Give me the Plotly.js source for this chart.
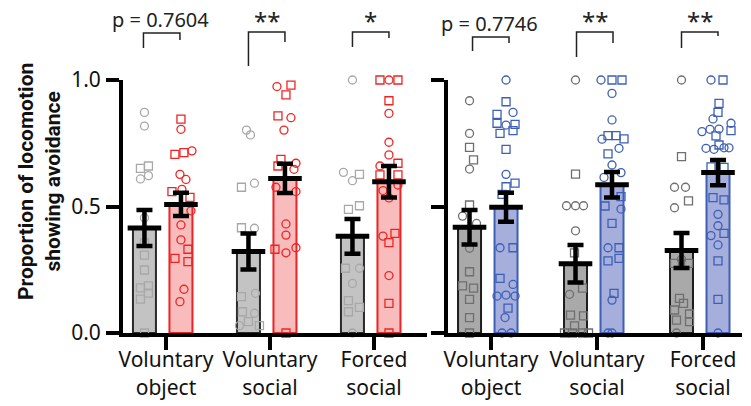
<!DOCTYPE html>
<html>
<head>
<meta charset="utf-8">
<script src="https://cdn.plot.ly/plotly-3.0.1.min.js"></script>
<style>html,body{margin:0;padding:0;background:#fff}#chart{width:751px;height:406px}</style>
</head>
<body>
<div id="chart"></div>
<script>
// ---------- DATA ----------
const groupPos = [0, 1, 2];
const tickLabels = ['Voluntary<br>object', 'Voluntary<br>social', 'Forced<br>social'];
const yTickVals = [0, 0.5, 1];
const yTickText = ['0.0', '0.5', '1.0'];

// Left panel (grey vs red)
const leftCtrlMean = [0.415, 0.322, 0.382];
const leftCtrlSem  = [0.071, 0.071, 0.069];
const leftExpMean  = [0.508, 0.611, 0.598];
const leftExpSem   = [0.046, 0.058, 0.062];
// Right panel (grey vs blue)
const rightCtrlMean = [0.418, 0.274, 0.326];
const rightCtrlSem  = [0.068, 0.074, 0.069];
const rightExpMean  = [0.497, 0.586, 0.634];
const rightExpSem   = [0.057, 0.050, 0.050];

// Individual points: values, symbols (c = circle, s = square), horizontal jitter (px)
const leftCtrlVals = [
  [0.872,0.818,0.651,0.660,0.609,0.622,0.455,0.356,0.308,0.249,0.178,0.186,0.158,0.134,0.0],
  [0.802,0.783,0.576,0.592,0.416,0.414,0.144,0.157,0.084,0.078,0.045,0.029,0.029],
  [1.0,0.635,0.627,0.602,0.489,0.503,0.256,0.256,0.196,0.128,0.084,0.101,0.0]
];
const leftCtrlSyms = ['ccssccc'+'ssssssss'+'c', 'ccscscscscscs', 'ccscsssccsssc'];
const leftCtrlJit = [
  [0,0,-4,4,-4,4,0,0,0,0,-4,4,4,-4,0],
  [-2,2,-7,6,-7,6,-7,7,-6,6,0,-9,11],
  [0,-9,7,0,-4,7,-7,7,0,-4,-4,7,0]
];
const leftExpVals = [
  [0.845,0.805,0.706,0.713,0.720,0.627,0.607,0.559,0.568,0.536,0.483,0.427,0.368,0.331,0.295,0.282,0.173,0.124],
  [0.974,0.980,0.941,0.858,0.851,0.802,0.686,0.671,0.660,0.647,0.576,0.559,0.431,0.387,0.331,0.317,0.337,0.0],
  [1.0,1.0,1.0,0.918,0.868,0.754,0.704,0.660,0.671,0.625,0.625,0.585,0.563,0.534,0.383,0.394,0.357,0.227,0.117,0.0]
];
const leftExpSyms = ['scsscccscsccc'+'ssscc', 'csssccscscccccsccs', 'scssccccsssccccsscss'];
const leftExpJit = [
  [0,0,-6,3,11,-1,5,-9,1,9,10,0,0,7,-6,7,3,-1],
  [-8,6,1,-7,6,-1,-4,11,-7,9,-9,11,1,1,-10,1,11,1],
  [-9,0,9,0,0,0,0,-9,9,-9,9,9,-6,0,-6,6,0,0,0,0]
];
const rightCtrlVals = [
  [0.918,0.789,0.734,0.684,0.648,0.506,0.462,0.433,0.335,0.242,0.186,0.177,0.133,0.061,0.0],
  [1.0,0.628,0.503,0.503,0.503,0.404,0.317,0.177,0.153,0.071,0.068,0.028,0.0,0.0,0.0,0.0],
  [1.0,0.697,0.576,0.576,0.522,0.495,0.291,0.275,0.275,0.137,0.117,0.091,0.075,0.051,0.045,0.0]
];
const rightCtrlSyms = ['ccsscsccc'+'ssssss', 'cscccc'+'ssc'+'ssssssss', 'csccsccss'+'ssssssc'];
const rightCtrlJit = [
  [0,0,0,4,0,0,-7,7,0,0,-7,4,0,0,0],
  [0,0,-9,0,8,0,-1,7,-6,-5,8,-1,-11,-3,7,13],
  [0,0,-7,4,7,-7,0,-7,7,-2,2,-7,8,-5,8,-5]
];
const rightExpVals = [
  [1.0,0.914,0.864,0.872,0.829,0.822,0.825,0.800,0.789,0.726,0.627,0.592,0.578,0.548,0.337,0.337,0.216,0.192,0.146,0.150,0.146,0.098,0.061,0.0,0.0],
  [1.0,1.0,1.0,0.947,0.842,0.766,0.780,0.780,0.767,0.730,0.708,0.664,0.615,0.634,0.502,0.539,0.490,0.433,0.337,0.337,0.285,0.295,0.157,0.130,0.0,0.0],
  [1.0,1.0,0.908,0.872,0.846,0.829,0.800,0.796,0.805,0.806,0.779,0.743,0.730,0.726,0.732,0.732,0.657,0.655,0.535,0.526,0.469,0.424,0.385,0.394,0.348,0.285,0.133,0.0]
];
const rightExpSyms = ['csscscssss'+'cssscsscccc'+'scccc', 'csscccsssc'+'scccsscscsss'+'sccc', 'cssscc'+'scccssccc'+'csssscccscssc'];
const rightExpJit = [
  [0,0,-9,7,-9,0,9,7,-6,0,0,9,0,-4,-6,7,-6,7,-9,0,9,2,-1,-4,5],
  [-11,0,10,0,0,-10,-4,4,12,7,-4,0,-8,9,-7,9,9,0,-4,7,-4,7,2,0,-4,0],
  [-7,5,1,0,-5,13,13,-16,-8,1,-2,1,-12,-4,6,11,-7,6,-5,6,0,0,-7,6,0,0,0,0]
];

// Significance labels
const leftSig = ['p = 0.7604', '**', '*'];
const rightSig = ['p = 0.7746', '**', '**'];
</script>
<script>
// ---------- STYLE / LAYOUT ----------
const FONT = 'Noto Sans, Open Sans, sans-serif';
const Y0 = 73/406, Y1 = 326/406;           // y domain (paper)
const leftDom = [123/751, 427/751], leftRange = [-0.413, 2.51];
const rightDom = [448/751, 742/751], rightRange = [-0.406, 2.368];
const leftPx = (leftDom[1]-leftDom[0])*751/(leftRange[1]-leftRange[0]);
const rightPx = (rightDom[1]-rightDom[0])*751/(rightRange[1]-rightRange[0]);
const ctrlOff = -21.5, expOff = 15;        // px offset of bars from group tick
const barPx = 23;

function symList(str, n){ const out=[]; for(let i=0;i<n;i++){ out.push((str[i]||'c')==='s'?'square-open':'circle-open'); } return out; }

const traces = [];
const shapes = [];
const annotations = [];

function addPanel(xa, ya, pxu, ctrlMean, ctrlSem, expMean, expSem, ctrlVals, ctrlSyms, ctrlJit, expVals, expSyms, expJit,
                  ctrlFill, ctrlLine, ctrlPt, expFill, expLine, expPt, sig, brk, xDom, xRange) {
  const xc = groupPos.map(g => g + ctrlOff/pxu);
  const xe = groupPos.map(g => g + expOff/pxu);
  const w = barPx/pxu;
  traces.push({type:'bar', x:xc, y:ctrlMean, width:w, xaxis:xa, yaxis:ya,
    marker:{color:ctrlFill, line:{color:ctrlLine, width:2}}, hoverinfo:'skip', showlegend:false});
  traces.push({type:'bar', x:xe, y:expMean, width:w, xaxis:xa, yaxis:ya,
    marker:{color:expFill, line:{color:expLine, width:2}}, hoverinfo:'skip', showlegend:false});
  function pts(vals, syms, jit, xs, color){
    const X=[],Y=[],S=[];
    vals.forEach((arr,gi)=>{
      const sl = symList(syms[gi], arr.length);
      arr.forEach((v,i)=>{ X.push(xs[gi] + (jit[gi][i]||0)/pxu); Y.push(v); S.push(sl[i]); });
    });
    traces.push({type:'scatter', mode:'markers', x:X, y:Y, xaxis:xa, yaxis:ya, cliponaxis:false,
      marker:{symbol:S, size:8, color:color, line:{color:color, width:1.3}}, hoverinfo:'skip', showlegend:false});
  }
  pts(ctrlVals, ctrlSyms, ctrlJit, xc, ctrlPt);
  pts(expVals, expSyms, expJit, xe, expPt);
  [[xc, ctrlMean, ctrlSem],[xe, expMean, expSem]].forEach(([xs, m, s])=>{
    traces.push({type:'scatter', mode:'markers', x:xs, y:m, xaxis:xa, yaxis:ya, cliponaxis:false,
      marker:{symbol:'line-ew', size:barPx+1, color:'#000', line:{color:'#000', width:5}},
      error_y:{type:'data', array:s, visible:true, color:'#000', thickness:4.5, width:8},
      hoverinfo:'skip', showlegend:false});
  });
  const toPX = x => xDom[0] + (x - xRange[0])/(xRange[1]-xRange[0])*(xDom[1]-xDom[0]);
  const toPY = v => Y0 + v*(Y1-Y0);
  groupPos.forEach((g,i)=>{
    const b = brk[i];
    const xl = toPX(xc[i]) + b.dx/751, xr = toPX(xe[i]) + b.dx/751;
    shapes.push({type:'path', xref:'paper', yref:'paper',
      path:`M ${xl},${toPY(b.l)} L ${xl},${toPY(b.t)} L ${xr},${toPY(b.t)} L ${xr},${toPY(b.r)}`,
      line:{color:'#222', width:1.5}});
    const isP = sig[i].startsWith('p');
    annotations.push({xref:'paper', yref:'paper', x:(xl+xr)/2 + (isP? -1/751:0), y:toPY(isP? b.t+0.055 : b.t+0.045),
      text:sig[i], showarrow:false, xanchor:'center', yanchor:'middle',
      font:{family:FONT, size:isP?20:24, color:'#222'}});
  });
}

const leftBrk = [{t:1.186,l:1.126,r:1.158,dx:-1},{t:1.190,l:1.055,r:1.150,dx:0},{t:1.190,l:1.130,r:1.166,dx:0}];
const rightBrk = [{t:1.170,l:1.115,r:1.146,dx:3},{t:1.190,l:1.091,r:1.146,dx:1},{t:1.190,l:1.126,r:1.174,dx:0}];

addPanel('x','y', leftPx, leftCtrlMean, leftCtrlSem, leftExpMean, leftExpSem,
  leftCtrlVals, leftCtrlSyms, leftCtrlJit, leftExpVals, leftExpSyms, leftExpJit,
  '#c3c3c3', '#2a2a2a', '#a8a8a8', '#f8bcbc', '#ee2424', '#ee2424', leftSig, leftBrk, leftDom, leftRange);
addPanel('x2','y2', rightPx, rightCtrlMean, rightCtrlSem, rightExpMean, rightExpSem,
  rightCtrlVals, rightCtrlSyms, rightCtrlJit, rightExpVals, rightExpSyms, rightExpJit,
  '#a9a9a9', '#1e1e1e', '#6f6f6f', '#a6aedb', '#3d5fb6', '#3d5fb6', rightSig, rightBrk, rightDom, rightRange);

annotations.push({xref:'paper', yref:'paper', x:39/751, y:(406-182)/406, textangle:-90,
  text:'<b>Proportion of locomotion<br>showing avoidance</b>', showarrow:false,
  xanchor:'center', yanchor:'middle', font:{family:'Roboto, Noto Sans, sans-serif', size:21, color:'#111'}});

const xCommon = {tickmode:'array', tickvals:groupPos, ticktext:tickLabels, ticks:'outside', ticklen:13, tickwidth:4,
  tickcolor:'#000', showline:true, linewidth:4, linecolor:'#000', showgrid:false, zeroline:false,
  tickfont:{family:FONT, size:21, color:'#111'}, ticklabelstandoff:-8, fixedrange:true};
const yCommon = {range:[0,1], tickmode:'array', tickvals:yTickVals, ticktext:yTickText, ticks:'outside', ticklen:13, tickwidth:4,
  tickcolor:'#000', showline:true, linewidth:4, linecolor:'#000', showgrid:false, zeroline:false,
  tickfont:{family:FONT, size:21, color:'#111'}, ticklabelstandoff:1, fixedrange:true, domain:[Y0,Y1]};

const layout = {
  width:751, height:406, margin:{l:0,r:0,t:0,b:0}, paper_bgcolor:'#fff', plot_bgcolor:'rgba(0,0,0,0)',
  barmode:'overlay', showlegend:false,
  xaxis:Object.assign({}, xCommon, {domain:leftDom, range:leftRange, anchor:'y'}),
  xaxis2:Object.assign({}, xCommon, {domain:rightDom, range:rightRange, anchor:'y2'}),
  yaxis:Object.assign({}, yCommon, {anchor:'x'}),
  yaxis2:Object.assign({}, yCommon, {anchor:'x2', showticklabels:false}),
  shapes:shapes, annotations:annotations
};
Plotly.newPlot('chart', traces, layout, {displayModeBar:false, staticPlot:true});
</script>
</body>
</html>
